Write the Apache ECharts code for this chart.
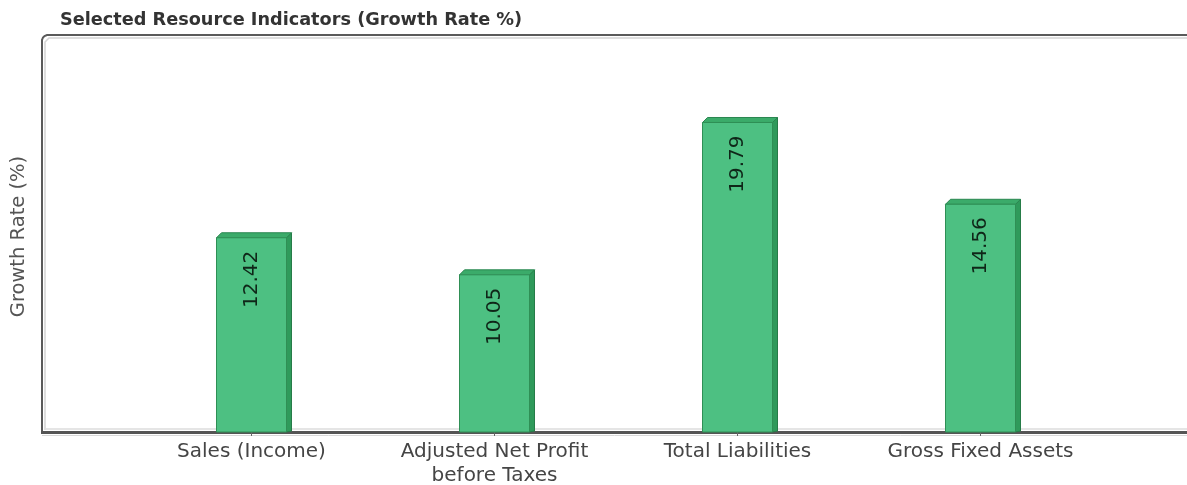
<!DOCTYPE html>
<html>
<head>
<meta charset="utf-8">
<script src="https://cdn.jsdelivr.net/npm/echarts@6/dist/echarts.min.js"></script>
<style>
  html, body { margin: 0; padding: 0; background: #ffffff; }
  #chart { width: 1187px; height: 485px; }
</style>
</head>
<body>
<div id="chart"></div>
<script>
// Growth rates of selected resource indicators (%)
const categories = [
  'Sales (Income)',
  'Adjusted Net Profit\nbefore Taxes',
  'Total Liabilities',
  'Gross Fixed Assets'
];
const growthRates = [12.42, 10.05, 19.79, 14.56];

const chartTitle = 'Selected Resource Indicators (Growth Rate %)';
const yAxisName = 'Growth Rate (%)';

const FONT = '"DejaVu Sans", Arial, sans-serif';
const BAR_W = 70;     // front face width
const DEPTH = 5;      // 3D offset of top and side faces

const chart = echarts.init(document.getElementById('chart'), null, { renderer: 'canvas' });

// Each bar: front face, top face and right side, plus a rotated value label
function renderBar3D(params, api) {
  const idx = api.value(0);
  const val = api.value(1);
  const top = api.coord([idx, val]);
  const base = api.coord([idx, 0]);
  const xl = top[0] - BAR_W / 2;
  const xr = top[0] + BAR_W / 2;
  const yt = top[1];
  const yb = base[1];
  return {
    type: 'group',
    children: [
      {
        type: 'polygon',
        shape: { points: [[xr, yt], [xr + DEPTH, yt - DEPTH], [xr + DEPTH, yb - 1], [xr, yb]] },
        style: { fill: '#2f9a5b', stroke: '#267c48', lineWidth: 1 }
      },
      {
        type: 'polygon',
        shape: { points: [[xl, yt], [xl + DEPTH, yt - DEPTH], [xr + DEPTH, yt - DEPTH], [xr, yt]] },
        style: { fill: '#3bab6a', stroke: '#2a8650', lineWidth: 1 }
      },
      {
        type: 'rect',
        shape: { x: xl, y: yt, width: BAR_W, height: yb - yt },
        style: { fill: '#4dc082', stroke: '#2f8f55', lineWidth: 1 }
      },
      {
        type: 'text',
        x: top[0],
        y: yt + 13,
        rotation: Math.PI / 2,
        style: {
          text: val.toFixed(2),
          fill: '#0f2618',
          font: '20px ' + FONT,
          align: 'right',
          verticalAlign: 'middle'
        }
      }
    ]
  };
}

const option = {
  backgroundColor: '#ffffff',
  animation: false,
  title: {
    text: chartTitle,
    left: 55,
    top: 6,
    textStyle: { fontFamily: FONT, fontSize: 17.7, fontWeight: 'bold', color: '#333333' }
  },
  grid: { left: 130, right: 85, top: 41, bottom: 53, containLabel: false, outerBoundsMode: 'none' },
  xAxis: {
    type: 'category',
    data: categories,
    axisLine: { show: false },
    axisTick: { show: true, alignWithLabel: true, length: 4, lineStyle: { color: '#666666' } },
    axisLabel: {
      margin: 8,
      fontFamily: FONT,
      fontSize: 20,
      color: '#454545',
      lineHeight: 24,
      interval: 0
    }
  },
  yAxis: {
    type: 'value',
    min: 0,
    max: 25,
    name: yAxisName,
    nameLocation: 'middle',
    nameGap: 101,
    nameRotate: 90,
    nameTextStyle: { fontFamily: FONT, fontSize: 19.5, color: '#555555' },
    axisLine: { show: false },
    axisTick: { show: false },
    axisLabel: { show: false },
    splitLine: { show: false }
  },
  graphic: [
    // inner shading of the plot frame
    {
      type: 'polyline',
      silent: true,
      shape: { points: [[45, 430], [45, 42], [49, 38], [1187, 38]] },
      style: { stroke: '#d4d4d4', lineWidth: 1.5, fill: null }
    },
    {
      type: 'line',
      silent: true,
      shape: { x1: 44, y1: 429, x2: 1187, y2: 429 },
      style: { stroke: '#dcdcdc', lineWidth: 1.5 }
    },
    {
      type: 'line',
      silent: true,
      shape: { x1: 42, y1: 435.5, x2: 1187, y2: 435.5 },
      style: { stroke: '#d8d8d8', lineWidth: 1 }
    },
    // outer frame with a bevelled top-left corner
    {
      type: 'polyline',
      silent: true,
      shape: { points: [[42, 432], [42, 40], [43, 37.5], [44.5, 36], [47, 35], [1187, 35]] },
      style: { stroke: '#5a5a5a', lineWidth: 2, fill: null }
    },
    // baseline
    {
      type: 'line',
      silent: true,
      shape: { x1: 41, y1: 432.5, x2: 1187, y2: 432.5 },
      style: { stroke: '#555555', lineWidth: 3 }
    }
  ],
  series: [
    {
      type: 'custom',
      renderItem: renderBar3D,
      encode: { x: 0, y: 1 },
      data: growthRates.map((v, i) => [i, v]),
      z: 5
    }
  ]
};

chart.setOption(option);
</script>
</body>
</html>
